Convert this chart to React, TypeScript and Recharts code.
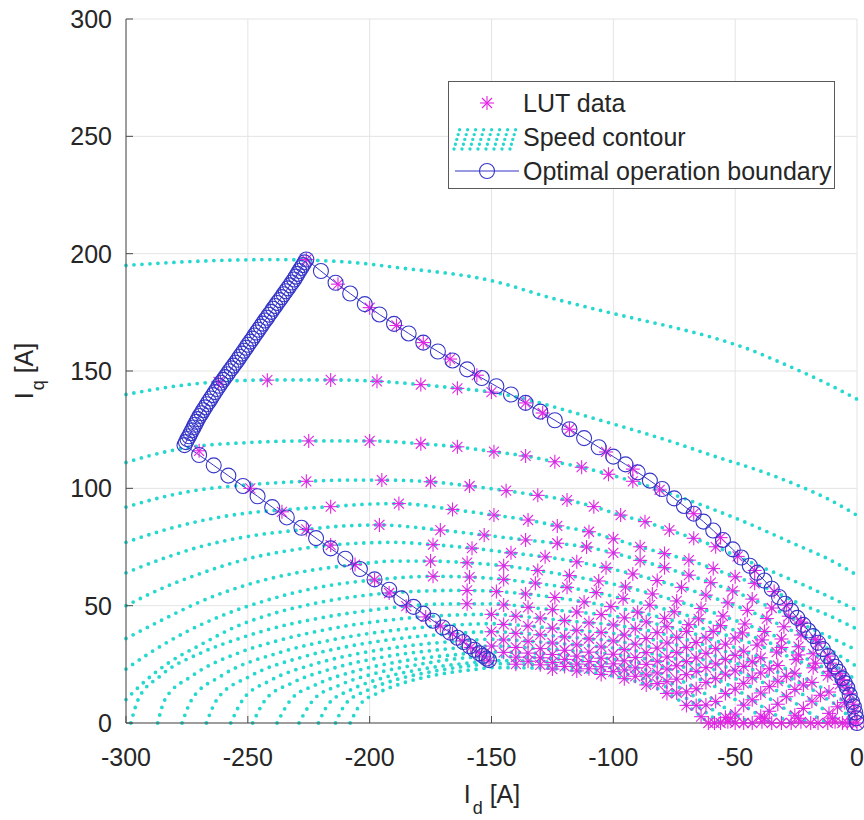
import { CartesianGrid, ComposedChart, Legend, Line, Scatter, XAxis, YAxis } from 'recharts'

type Pt = [number, number]

const FONT = '"Liberation Sans", Arial, Helvetica, sans-serif'
const CYAN = '#27d8cf'
const MAGENTA = '#e324e3'
const BLUE = '#3535c8'
const AXIS = '#4a4a4a'
const TEXT = '#262626'

const xTicks = [-300, -250, -200, -150, -100, -50, 0]
const yTicks = [0, 50, 100, 150, 200, 250, 300]
const legendLabels = ['LUT data', 'Speed contour', 'Optimal operation boundary']

// speed contours (Id, Iq), left -> right
const speedC01: Pt[] = [[-300, 195], [-270, 196.8], [-240, 197.5], [-210, 196.5], [-188, 194], [-150, 188.5], [-125, 181], [-100, 174.5], [-75, 168.5], [-60, 164.5], [-45, 159.5], [-30, 153], [-15, 146], [0, 138]]
const speedC02: Pt[] = [[-300, 140], [-280, 143.5], [-262, 145.4], [-240, 146.2], [-216, 146.2], [-196, 145.6], [-180, 144.3], [-164, 142.6], [-150, 141], [-136, 138], [-122, 134], [-107, 129.5], [-92, 125], [-75, 119.5], [-58, 113.5], [-40, 107.5], [-23, 100.7], [-11, 95], [0, 88.5]]
const speedC03: Pt[] = [[-300, 111], [-290, 114], [-277, 117], [-250, 119.5], [-225, 120.2], [-200, 120.2], [-179, 119], [-164, 117.7], [-149, 115.6], [-136, 113.8], [-124, 111.3], [-113, 109], [-102, 106], [-92, 103], [-80, 99], [-64, 93], [-48, 86.5], [-25, 76], [-12, 70], [0, 63]]
const speedC04: Pt[] = [[-300, 92], [-288, 95.5], [-275, 98.5], [-250, 101.5], [-226, 103], [-210, 103.5], [-195, 103.5], [-175, 102.8], [-159, 101], [-144, 99], [-131, 97], [-119, 95], [-108, 92.2], [-97, 88.6], [-87, 85.8], [-77, 82.2], [-67, 78.7], [-58, 75.1], [-47, 70], [-37, 65.5], [-18, 57], [0, 48]]
const speedC05: Pt[] = [[-300, 77], [-285, 82], [-270, 86], [-250, 89.5], [-236, 90.8], [-216, 92.2], [-200, 93.3], [-188, 93.5], [-166, 91], [-149, 88.6], [-135, 86.5], [-123, 84], [-110, 81.5], [-100, 78.5], [-89, 75.1], [-79, 72.2], [-69, 69.4], [-59, 65.8], [-50, 62.3], [-42, 59.5], [-34, 56], [-25, 51.5], [-12, 46], [0, 40]]
const speedC06: Pt[] = [[-300, 64], [-285, 70], [-270, 75], [-250, 79.5], [-226, 82.5], [-210, 84], [-196, 84.4], [-171, 82.2], [-153, 80.1], [-136, 78], [-123, 76.6], [-111, 75], [-100, 72.5], [-89, 69.3], [-79, 66.2], [-69, 63], [-60, 59.8], [-51, 56.3], [-43, 52.8], [-35, 49], [-28, 45.5], [-23, 42.5], [-12, 37], [0, 31]]
const speedC07: Pt[] = [[-300, 50], [-285, 57.5], [-270, 63.5], [-250, 70], [-230, 74], [-216, 75.8], [-200, 76.8], [-190, 77], [-174, 76], [-158, 74.5], [-142, 72.5], [-128, 70.8], [-115, 68.7], [-103, 66.2], [-92, 63.5], [-82, 60.7], [-72, 57.8], [-62, 54.5], [-53, 51.2], [-45, 48], [-37, 44.5], [-30, 41], [-23, 37.5], [-16, 34], [-10, 30.5], [0, 24]]
const speedC08: Pt[] = [[-300, 36], [-285, 44], [-270, 51.5], [-250, 59], [-230, 64], [-206, 67.5], [-190, 69], [-175, 69], [-160, 68.3], [-145, 67], [-131, 65], [-118, 62.8], [-106, 60.5], [-95, 58], [-84, 55], [-74, 52], [-64, 48.8], [-55, 45.6], [-46, 42.2], [-38, 39], [-31, 35.8], [-24, 32.5], [-18, 29.5], [-11, 25.5], [-6, 22.3], [0, 18]]
const speedC09: Pt[] = [[-300, 23], [-290, 30], [-275, 39], [-260, 46], [-240, 53], [-220, 58], [-198, 61], [-174, 62.5], [-159, 62.2], [-145, 61.2], [-132, 59.6], [-119, 57.8], [-107, 55.6], [-96, 53], [-85, 50.2], [-75, 47.4], [-65, 44.4], [-56, 41.5], [-47, 38.4], [-39, 35.4], [-31, 32.2], [-24, 29], [-17, 25.5], [-11, 22], [-6, 18.5], [0, 13]]
const speedC10: Pt[] = [[-300, 10], [-292, 18], [-282, 26], [-270, 33], [-255, 41], [-240, 46.5], [-220, 51.5], [-192, 55.4], [-165, 56.5], [-154, 56.4], [-142, 55.6], [-130, 54.3], [-118, 52.6], [-106, 50.6], [-95, 48.4], [-84, 45.9], [-74, 43.3], [-64, 40.5], [-55, 37.8], [-46, 34.9], [-37, 31.8], [-29, 28.7], [-22, 25.6], [-15, 22], [-9, 18.3], [-4, 14], [0, 8]]
const speedC11: Pt[] = [[-298, 0], [-295, 10], [-286, 20], [-269, 30], [-255, 35.5], [-241, 40], [-219, 45], [-200, 48], [-185, 49.8], [-170, 50.7], [-150, 50.8], [-130, 48.8], [-115, 47.3], [-100, 45.6], [-85, 42.8], [-70, 39], [-55, 34], [-40, 28], [-25, 21], [-12, 13.5], [-4, 8], [0, 4]]
const speedC12: Pt[] = [[-287, 0], [-284, 10], [-273, 20], [-253.5, 30], [-238, 35], [-217, 40], [-191, 44], [-170, 45.8], [-150, 46.3], [-130, 44.7], [-115, 43.2], [-100, 41.8], [-85, 39.2], [-70, 35.5], [-55, 30.8], [-40, 25], [-25, 18], [-12, 10], [-5, 4.5], [-2, 0]]
const speedC13: Pt[] = [[-277, 0], [-273, 10], [-261, 20], [-237, 30], [-217.5, 35], [-186, 40], [-168, 41.6], [-150, 42.3], [-130, 40.9], [-115, 39.5], [-100, 38.2], [-85, 35.8], [-70, 32.2], [-55, 27.5], [-40, 21.5], [-25, 14], [-14, 6], [-6, 0]]
const speedC14: Pt[] = [[-267, 0], [-262.7, 10], [-249, 20], [-228, 28], [-207, 33], [-188, 36], [-167, 38], [-150, 38.9], [-130, 37.6], [-115, 36.3], [-100, 35], [-85, 32.6], [-70, 29], [-55, 24.3], [-40, 18], [-28, 10.5], [-19, 4], [-12, 0]]
const speedC15: Pt[] = [[-257, 0], [-252, 10], [-241, 18], [-223, 25], [-202.5, 30], [-183.5, 33], [-162, 35], [-150, 35.7], [-130, 34.5], [-115, 33.3], [-100, 32], [-85, 29.7], [-70, 26.2], [-55, 21.3], [-42, 14.5], [-31, 7], [-25, 3], [-19, 0]]
const speedC16: Pt[] = [[-248, 0], [-242.7, 10], [-232, 17], [-216, 23], [-195, 28], [-173.5, 31], [-150, 32.8], [-130, 31.7], [-115, 30.6], [-100, 29.3], [-85, 27], [-70, 23.5], [-57, 18.5], [-46, 12], [-36, 5], [-27, 0]]
const speedC17: Pt[] = [[-238, 0], [-232.3, 10], [-222.7, 16], [-206.3, 22], [-188.7, 26], [-166, 29], [-150, 30.3], [-130, 29.6], [-115, 28.5], [-100, 27.2], [-85, 24.8], [-72, 21.4], [-60, 16.5], [-50, 10], [-42, 4.5], [-35, 0]]
const speedC18: Pt[] = [[-229, 0], [-223, 10], [-212.7, 16], [-198.3, 21], [-179.6, 25], [-158, 28], [-150, 28.3], [-130, 27.8], [-115, 26.7], [-100, 25.2], [-87, 22.8], [-75, 19.2], [-64, 13.6], [-55, 7], [-48, 2.5], [-43, 0]]
const speedC19: Pt[] = [[-221, 0], [-217, 8], [-208, 14], [-195.3, 19], [-178.4, 23], [-160, 25.5], [-150, 26.6], [-130, 26.2], [-115, 25.1], [-100, 23.5], [-88, 21], [-77, 17.3], [-68, 12.2], [-59, 5.5], [-50, 0]]
const speedC20: Pt[] = [[-214, 0], [-210, 8], [-200.8, 14], [-189, 18.5], [-174, 22], [-158, 24.5], [-150, 25.3], [-130, 24.8], [-115, 23.7], [-100, 21.9], [-89, 19.4], [-79, 15.7], [-70, 10.5], [-62, 4.5], [-56, 0]]
const speedC21: Pt[] = [[-208, 0], [-203.8, 8], [-196.2, 13], [-186.4, 17], [-172.7, 20.5], [-155.6, 23], [-150, 23.6], [-130, 23.4], [-115, 22.2], [-100, 20], [-90, 17.5], [-80, 13.8], [-72, 9], [-66, 4.5], [-61, 0]]

const speedContours = [speedC01, speedC02, speedC03, speedC04, speedC05, speedC06, speedC07, speedC08, speedC09, speedC10, speedC11, speedC12, speedC13, speedC14, speedC15, speedC16, speedC17, speedC18, speedC19, speedC20, speedC21]

// LUT points, grouped by the contour they sit on
const lutC02: Pt[] = [[-262, 145.4], [-242, 146.1], [-216, 146.2], [-197, 145.6], [-179, 144.2], [-164, 142.6], [-150, 141]]
const lutC03: Pt[] = [[-270, 116], [-225, 120.2], [-200, 120.2], [-179, 119], [-164, 117.7], [-149, 115.6], [-136, 113.8], [-124, 111.3], [-113, 109], [-102, 106], [-92, 103], [-81, 99.3]]
const lutC04: Pt[] = [[-249, 100], [-226, 103], [-195, 103.5], [-175, 102.8], [-159, 101], [-144, 99], [-131, 97], [-119, 95], [-108, 92.2], [-97, 88.6], [-87, 85.8], [-77, 82.2], [-67, 78.7], [-58, 75.1], [-49, 71]]
const lutC05: Pt[] = [[-236, 90], [-216, 92.2], [-188, 93.5], [-166, 91], [-149, 88.6], [-135, 86.5], [-123, 84], [-110, 81.5], [-100, 78.5], [-89, 75.1], [-79, 72.2], [-69, 69.4], [-59, 65.8], [-50, 62.3], [-42, 59.5], [-34, 56]]
const lutC06: Pt[] = [[-226, 82.5], [-196, 84.4], [-171, 82.2], [-153, 80.1], [-136, 78], [-123, 76.6], [-111, 75], [-100, 72.5], [-89, 69.3], [-79, 66.2], [-69, 63], [-60, 59.8], [-51, 56.3], [-43, 52.8], [-35, 49], [-28, 45.5], [-23, 42.5]]
const lutC07: Pt[] = [[-216, 75.8], [-174, 76], [-158, 74.5], [-142, 72.5], [-128, 70.8], [-115, 68.7], [-103, 66.2], [-92, 63.5], [-82, 60.7], [-72, 57.8], [-62, 54.5], [-53, 51.2], [-45, 48], [-37, 44.5], [-30, 41], [-23, 37.5], [-16, 34]]
const lutC08: Pt[] = [[-206, 67.5], [-175, 69], [-160, 68.3], [-145, 67], [-131, 65], [-118, 62.8], [-106, 60.5], [-95, 58], [-84, 55], [-74, 52], [-64, 48.8], [-55, 45.6], [-46, 42.2], [-38, 39], [-31, 35.8], [-24, 32.5], [-18, 29.5], [-11, 25.5]]
const lutC09: Pt[] = [[-198, 61], [-174, 62.5], [-159, 62.2], [-145, 61.2], [-132, 59.6], [-119, 57.8], [-107, 55.6], [-96, 53], [-85, 50.2], [-75, 47.4], [-65, 44.4], [-56, 41.5], [-47, 38.4], [-39, 35.4], [-31, 32.2], [-24, 29], [-17, 25.5], [-11, 22], [-6, 18.5]]
const lutC10: Pt[] = [[-192, 55.4], [-160, 56.5], [-148, 56], [-136, 55], [-124, 53.5], [-112, 51.6], [-101, 49.6], [-90, 47.2], [-79, 44.6], [-69, 41.9], [-59, 39], [-50, 36.2], [-41, 33.2], [-33, 30.2], [-25, 27], [-18, 23.5], [-12, 20.2], [-7, 16.5], [-3, 12.5]]
const lutC11: Pt[] = [[-185, 49.8], [-160, 50.8], [-145, 50.3], [-135, 49.3], [-125, 48.3], [-115, 47.3], [-105, 46.2], [-95.5, 44.8], [-86.5, 43.1], [-78, 41], [-70, 39], [-62, 36.3], [-54, 33.6], [-46.5, 30.6], [-39.5, 27.8], [-32.5, 24.5], [-25.5, 21.2], [-18.5, 17.3], [-11.5, 13.2], [-5, 8.7], [-1, 5]]
const lutC12: Pt[] = [[-177, 45.2], [-150, 46.3], [-140, 45.5], [-130, 44.7], [-120, 43.7], [-110, 42.7], [-100, 41.8], [-91, 40.2], [-82, 38.5], [-74, 36.5], [-66, 34.3], [-58, 31.7], [-50, 28.8], [-43, 26.1], [-36, 23.1], [-29, 19.9], [-22, 16.2], [-15, 11.8], [-8, 6.9], [-2, 0]]
const lutC13: Pt[] = [[-171, 41.4], [-145, 42], [-135, 41.3], [-125, 40.4], [-115, 39.5], [-105, 38.6], [-95.5, 37.5], [-86.5, 36], [-78, 34.1], [-70, 32.2], [-62, 29.7], [-54, 27.1], [-46.5, 24.1], [-39.5, 21.3], [-32.5, 17.8], [-25.5, 14.3], [-18.5, 9.3], [-11.5, 4.1], [-6, 0]]
const lutC14: Pt[] = [[-166, 38], [-150, 38.9], [-140, 38.2], [-130, 37.6], [-120, 36.7], [-110, 35.9], [-100, 35], [-91, 33.6], [-82, 31.9], [-74, 30], [-66, 27.7], [-58, 25.2], [-50, 22.2], [-43, 19.3], [-36, 15.5], [-29, 11.2], [-22, 6.2], [-12, 0]]
const lutC15: Pt[] = [[-162, 35], [-145, 35.4], [-135, 34.8], [-125, 34.1], [-115, 33.3], [-105, 32.4], [-95.5, 31.3], [-86.5, 30], [-78, 28.1], [-70, 26.2], [-62, 23.6], [-54, 20.8], [-46.5, 16.9], [-39.5, 12.8], [-32.5, 8], [-25.5, 3.3], [-19, 0]]
const lutC16: Pt[] = [[-158.5, 32.2], [-150, 32.8], [-140, 32.2], [-130, 31.7], [-120, 31], [-110, 30.2], [-100, 29.3], [-91, 27.9], [-82, 26.3], [-74, 24.4], [-66, 22], [-58, 18.9], [-50, 14.4], [-43, 9.9], [-36, 5], [-27, 0]]
const lutC17: Pt[] = [[-155, 29.9], [-145, 30.1], [-135, 29.8], [-125, 29.2], [-115, 28.5], [-105, 27.6], [-95.5, 26.5], [-86.5, 25], [-78, 23], [-70, 20.6], [-62, 17.3], [-54, 12.6], [-46.5, 7.6], [-39.5, 2.9], [-35, 0]]
const lutC18: Pt[] = [[-153, 28.2], [-140, 28.05], [-130, 27.8], [-120, 27.1], [-110, 26.2], [-100, 25.2], [-91, 23.5], [-82, 21.3], [-74, 18.7], [-66, 14.6], [-58, 9.2], [-50, 3.8], [-43, 0]]
const lutC19: Pt[] = [[-151, 26.5], [-135, 26.3], [-125, 25.8], [-115, 25.1], [-105, 24], [-95.5, 22.6], [-86.5, 20.5], [-78, 17.6], [-70, 13.3], [-62, 7.7], [-54, 2.4], [-50, 0]]
const lutC20: Pt[] = [[-140, 25.05], [-130, 24.8], [-120, 24.1], [-110, 23.1], [-100, 21.9], [-91, 19.9], [-82, 16.8], [-74, 12.8], [-66, 7.5], [-56, 0]]
const lutC21: Pt[] = [[-125, 23], [-115, 22.2], [-105, 20.7], [-95.5, 18.9], [-86.5, 16.2], [-78, 12.6], [-70, 7.5], [-64, 2.7], [-61, 0]]
// zero-torque row along the Id axis
const lutZero: Pt[] = [[-58.5, 0], [-53, 0.5], [-46.5, 0], [-39, 0.5], [-31, 0], [-23, 0.5], [-16, 0], [-9, 0.5], [-4, 0], [-52, 2], [-38, 2], [-24, 2], [-10, 2]]
// LUT points that sit on the upper boundary arc
const lutArc: Pt[] = [[-226, 197.5], [-213, 187], [-200, 177], [-189, 169.4], [-178, 162.1], [-167, 155.1], [-156, 148.2], [-136, 136.4], [-129, 132.1], [-118, 125.2], [-103, 115.5], [-92, 108.2], [-67, 89.2], [-56, 79], [-42, 65], [-29, 50.2], [-23, 43], [-17, 35.6], [-12, 28.5], [-7, 21], [-4, 15], [-1.5, 8], [0, 0]]

const lutRows = [lutC02, lutC03, lutC04, lutC05, lutC06, lutC07, lutC08, lutC09, lutC10, lutC11, lutC12, lutC13, lutC14, lutC15, lutC16, lutC17, lutC18, lutC19, lutC20, lutC21, lutZero, lutArc]

// optimal operation boundary, in drawing order: arc up from origin, left edge down, lower edge back
const boundaryArc: Pt[] = [[0, 0], [-0.3, 2], [-0.7, 4.5], [-1.3, 7], [-2, 9], [-3, 12], [-4, 15], [-5, 17], [-6, 19], [-7.5, 21.8], [-9, 24], [-10.5, 26.3], [-12, 28.5], [-14, 31.5], [-16, 34.2], [-18, 37], [-20, 39.4], [-22, 41.8], [-24.5, 44.8], [-27, 47.8], [-29.5, 50.8], [-32, 53.7], [-35, 57.2], [-38, 60.7], [-41, 64], [-44, 67], [-47.5, 70.5], [-51, 74], [-55, 78], [-59, 82], [-63, 85.8], [-67, 89.2], [-71, 92.5], [-75, 95.7], [-80, 99.7], [-85, 103.3], [-90, 106.8], [-95, 110.2], [-100, 113.5], [-106, 117.5], [-112, 121.4], [-118, 125.2], [-124, 129], [-130, 132.7], [-136, 136.4], [-142, 140], [-148, 143.5], [-154, 147], [-160, 150.7], [-166, 154.5], [-172, 158.3], [-178, 162.1], [-184, 166], [-190, 170.1], [-196, 174.1], [-202, 178.5], [-208, 183], [-214, 187.6], [-220, 192.6], [-226, 197.5]]
const boundaryLeft: Pt[] = [
  [-226.7, 196.3], [-227.4, 195.1], [-228.1, 193.9], [-228.9, 192.6], [-229.6, 191.4], [-230.3, 190.2], [-231, 189],
  [-231.9, 187.7], [-232.7, 186.5], [-233.6, 185.2], [-234.4, 184], [-235.3, 182.7], [-236.1, 181.5], [-237, 180.2],
  [-237.9, 179], [-238.7, 177.7], [-239.6, 176.5], [-240.4, 175.2], [-241.3, 174], [-242.1, 172.7], [-243, 171.5],
  [-243.9, 170.2], [-244.7, 168.9], [-245.6, 167.6], [-246.4, 166.4], [-247.3, 165.1], [-248.1, 163.8], [-249, 162.5],
  [-249.9, 161.2], [-250.7, 159.9], [-251.6, 158.6], [-252.4, 157.4], [-253.3, 156.1], [-254.1, 154.8], [-255, 153.5],
  [-255.9, 152.3], [-256.7, 151.1], [-257.6, 149.9], [-258.4, 148.6], [-259.3, 147.4], [-260.1, 146.2], [-261, 145],
  [-261.8, 143.7], [-262.7, 142.3], [-263.5, 141], [-264.3, 139.7], [-265.2, 138.3], [-266, 137],
  [-266.8, 135.8], [-267.5, 134.5], [-268.3, 133.3], [-269, 132], [-269.8, 130.8], [-270.5, 129.5],
  [-271.1, 128.3], [-271.7, 127.1], [-272.3, 125.9], [-272.9, 124.7], [-273.5, 123.5],
  [-274.1, 122.2], [-274.8, 121], [-275.4, 119.7], [-276, 118.4],
]
const boundaryLower: Pt[] = [[-270, 114.2], [-264, 109.8], [-258, 105.4], [-252, 101], [-246, 96.6], [-240, 92], [-234, 87.6], [-228, 83.2], [-222, 78.8], [-216, 74.4], [-210, 70], [-204, 65.6], [-198, 61.2], [-192, 56.8], [-187, 53.1], [-182, 49.5], [-178, 46.6], [-174, 43.6], [-170, 40.7], [-167, 38.5], [-164, 36.3], [-161.5, 34.5], [-159, 32.7], [-157, 31.2], [-155, 29.7], [-153.5, 28.6], [-152, 27.5], [-151, 26.8]]

const toPts = (arr: Pt[]) => arr.map(([x, y]) => ({ x, y }))

const lutData = lutRows.flatMap(toPts)
const boundaryData = toPts([...boundaryArc, ...boundaryLeft, ...boundaryLower])

function Asterisk({ cx, cy }: { cx?: number; cy?: number }) {
  if (cx == null || cy == null) return null
  const r = 7
  const d = 5
  return (
    <g stroke={MAGENTA} strokeWidth={1.1}>
      <line x1={cx - r} y1={cy} x2={cx + r} y2={cy} />
      <line x1={cx} y1={cy - r} x2={cx} y2={cy + r} />
      <line x1={cx - d} y1={cy - d} x2={cx + d} y2={cy + d} />
      <line x1={cx - d} y1={cy + d} x2={cx + d} y2={cy - d} />
    </g>
  )
}

function legendIcon(i: number) {
  if (i === 0) return <Asterisk cx={38} cy={17} />
  if (i === 1) {
    return (
      <g stroke={CYAN} strokeWidth={3.4} strokeLinecap="round" strokeDasharray="0 5">
        {[8, 16, 24, 32, 40, 48, 56, 64].map((x) => (
          <line key={x} x1={x - 3} y1={29} x2={x + 4} y2={5} />
        ))}
      </g>
    )
  }
  return (
    <g stroke={BLUE} fill="none">
      <line x1={6} y1={17} x2={70} y2={17} strokeWidth={1} />
      <circle cx={38} cy={17} r={7.5} strokeWidth={1.1} />
    </g>
  )
}

const renderLegend = () => (
  <div
    style={{
      position: 'relative',
      width: 387,
      height: 108,
      boxSizing: 'border-box',
      border: '1px solid #5a5a5a',
      background: '#fff',
      fontFamily: FONT,
      fontSize: 25,
      color: TEXT,
    }}
  >
    {legendLabels.map((label, i) => (
      <div key={label} style={{ position: 'absolute', left: 0, top: 4 + i * 34, height: 34, display: 'flex', alignItems: 'center' }}>
        <svg width={74} height={34} style={{ flex: 'none' }}>
          {legendIcon(i)}
        </svg>
        <span style={{ whiteSpace: 'nowrap', lineHeight: '34px' }}>{label}</span>
      </div>
    ))}
  </div>
)

export default function App() {
  const tickStyle = { fontSize: 25, fill: TEXT, fontFamily: FONT }
  return (
    <div style={{ position: 'absolute', left: 0, top: 0, width: 864, height: 820, background: '#fff', fontFamily: FONT }}>
      <ComposedChart width={864} height={820} margin={{ top: 19, right: 7, bottom: 0, left: 0 }}>
        <CartesianGrid stroke="#e4e4e4" />
        <XAxis
          type="number"
          dataKey="x"
          domain={[-300, 0]}
          ticks={xTicks}
          interval={0}
          height={97}
          tickSize={-7}
          tickMargin={32}
          tick={tickStyle}
          axisLine={{ stroke: AXIS }}
          tickLine={{ stroke: AXIS }}
        />
        <YAxis
          type="number"
          dataKey="y"
          domain={[0, 300]}
          ticks={yTicks}
          interval={0}
          width={126}
          tickSize={-7}
          tickMargin={21}
          tick={tickStyle}
          axisLine={{ stroke: AXIS }}
          tickLine={{ stroke: AXIS }}
        />
        {speedContours.map((c, i) => (
          <Line
            key={`speed-${i}`}
            data={toPts(c)}
            dataKey="y"
            type="monotone"
            stroke={CYAN}
            strokeWidth={3.8}
            strokeLinecap="round"
            strokeDasharray="0 8"
            dot={false}
            activeDot={false}
            isAnimationActive={false}
          />
        ))}
        <Scatter data={lutData} dataKey="y" shape={(p: any) => <Asterisk cx={p.cx} cy={p.cy} />} isAnimationActive={false} />
        <Line
          data={boundaryData}
          dataKey="y"
          type="linear"
          stroke={BLUE}
          strokeWidth={1}
          dot={{ r: 7.5, fill: 'none', stroke: BLUE, strokeWidth: 1.1 }}
          activeDot={false}
          isAnimationActive={false}
        />
        <Legend
          content={renderLegend}
          layout="vertical"
          align="center"
          verticalAlign="middle"
          wrapperStyle={{ left: 448, top: 81, width: 387, height: 108 }}
        />
      </ComposedChart>
      <div style={{ position: 'absolute', left: 392, top: 782, width: 200, textAlign: 'center', fontSize: 25, lineHeight: '25px', color: TEXT }}>
        I<span style={{ fontSize: 18, position: 'relative', top: 11, marginLeft: 2 }}>d</span> [A]
      </div>
      <div
        style={{
          position: 'absolute',
          left: 26,
          top: 371,
          transform: 'translate(-50%, -50%) rotate(-90deg)',
          whiteSpace: 'nowrap',
          fontSize: 25,
          lineHeight: '25px',
          color: TEXT,
        }}
      >
        I<span style={{ fontSize: 18, position: 'relative', top: 11, marginLeft: 2 }}>q</span> [A]
      </div>
    </div>
  )
}
